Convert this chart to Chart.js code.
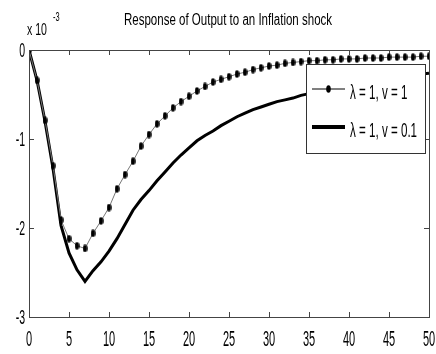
<!DOCTYPE html>
<html>
<head>
<meta charset="utf-8">
<script src="https://cdn.jsdelivr.net/npm/chart.js@4.4.1/dist/chart.umd.min.js"></script>
<style>
    body { margin: 0; background: #fff; }
    #wrap { width: 436px; height: 354px; }
</style>
</head>
<body>
<div id="wrap"><canvas id="irfChart"></canvas></div>
<script>
// Impulse response data (values in units of 10^-3)
const periods = [0, 1, 2, 3, 4, 5, 6, 7, 8, 9, 10, 11, 12, 13, 14, 15, 16, 17, 18, 19, 20,
    21, 22, 23, 24, 25, 26, 27, 28, 29, 30, 31, 32, 33, 34, 35, 36, 37, 38, 39, 40,
    41, 42, 43, 44, 45, 46, 47, 48, 49, 50];

const outputV1 = [0, -0.34, -0.79, -1.30, -1.91, -2.12, -2.20, -2.23, -2.06, -1.92, -1.77,
    -1.56, -1.40, -1.25, -1.08, -0.95, -0.83, -0.74, -0.65, -0.58, -0.52,
    -0.46, -0.41, -0.36, -0.33, -0.30, -0.27, -0.25, -0.22, -0.20, -0.18,
    -0.17, -0.15, -0.14, -0.13, -0.12, -0.12, -0.11, -0.11, -0.10, -0.10,
    -0.10, -0.09, -0.09, -0.09, -0.08, -0.08, -0.08, -0.08, -0.07, -0.07];

const outputV01 = [0, -0.34, -0.80, -1.33, -1.97, -2.28, -2.47, -2.60, -2.48, -2.38, -2.26,
    -2.12, -1.96, -1.80, -1.68, -1.58, -1.47, -1.37, -1.27, -1.18, -1.10,
    -1.02, -0.96, -0.91, -0.85, -0.80, -0.75, -0.71, -0.67, -0.64, -0.61,
    -0.58, -0.56, -0.54, -0.51, -0.49, -0.47, -0.45, -0.43, -0.41, -0.39,
    -0.37, -0.36, -0.34, -0.33, -0.31, -0.30, -0.29, -0.28, -0.27, -0.26];

const xTicks = [0, 5, 10, 15, 20, 25, 30, 35, 40, 45, 50];
const yTicks = [0, -1, -2, -3];
const seriesLabels = ['\u03bb = 1, v = 1', '\u03bb = 1, v = 0.1'];
const chartTitle = 'Response of Output to an Inflation shock';

const fontFam = '"Liberation Sans", Arial, sans-serif';

// text squeezed horizontally, like the scanned MATLAB figure
function drawNarrow(ctx, text, x, y, size, sx, align) {
    ctx.save();
    ctx.font = size + 'px ' + fontFam;
    ctx.textAlign = align || 'left';
    ctx.textBaseline = 'alphabetic';
    ctx.translate(x, y);
    ctx.scale(sx, 1);
    ctx.fillText(text, 0, 0);
    ctx.restore();
}

// tall oval marker used for the v = 1 series
const marker = document.createElement('canvas');
marker.width = 5;
marker.height = 8;
(function () {
    const m = marker.getContext('2d');
    m.fillStyle = '#000';
    m.beginPath();
    m.ellipse(2.5, 4, 2.3, 3.8, 0, 0, Math.PI * 2);
    m.fill();
})();

// Box, inward ticks, labels, title, exponent and legend (MATLAB look)
const matlabFrame = {
    id: 'matlabFrame',
    beforeDatasetsDraw(chart) {
        const { ctx, chartArea: a, scales } = chart;
        ctx.save();
        ctx.strokeStyle = '#444';
        ctx.lineWidth = 1;
        ctx.beginPath();
        xTicks.forEach(t => {
            const px = Math.round(scales.x.getPixelForValue(t)) + 0.5;
            ctx.moveTo(px, a.bottom); ctx.lineTo(px, a.bottom - 5);
            ctx.moveTo(px, a.top); ctx.lineTo(px, a.top + 5);
        });
        yTicks.forEach(t => {
            const py = Math.round(scales.y.getPixelForValue(t)) + 0.5;
            ctx.moveTo(a.left, py); ctx.lineTo(a.left + 5, py);
            ctx.moveTo(a.right, py); ctx.lineTo(a.right - 5, py);
        });
        ctx.stroke();
        ctx.restore();
    },
    afterDatasetsDraw(chart) {
        const { ctx, chartArea: a, scales } = chart;
        ctx.save();

        // legend box
        const lx = 306, ly = 64, lw = 119, lh = 89;
        ctx.fillStyle = '#fff';
        ctx.fillRect(lx, ly, lw, lh);
        ctx.strokeStyle = '#333';
        ctx.lineWidth = 1;
        ctx.strokeRect(lx + 0.5, ly + 0.5, lw, lh);

        const rows = [89, 127];
        chart.data.datasets.forEach((ds, i) => {
            const y = rows[i];
            ctx.strokeStyle = '#000';
            ctx.lineWidth = i === 0 ? 1 : 4;
            ctx.beginPath();
            ctx.moveTo(lx + 6, y); ctx.lineTo(lx + 39, y);
            ctx.stroke();
            if (ds.pointRadius > 0) {
                ctx.drawImage(marker, lx + 20, y - 4);
            }
            ctx.fillStyle = '#000';
            drawNarrow(ctx, ds.label, lx + 44, y + 10, 20, 0.58);
        });

        // box around the axes
        ctx.strokeStyle = '#444';
        ctx.lineWidth = 1;
        ctx.strokeRect(Math.round(a.left) + 0.5, Math.round(a.top) + 0.5,
            Math.round(a.right - a.left), Math.round(a.bottom - a.top));

        ctx.fillStyle = '#000';
        // tick labels
        xTicks.forEach(t => {
            drawNarrow(ctx, String(t), scales.x.getPixelForValue(t), 346, 22, 0.5, 'center');
        });
        yTicks.forEach(t => {
            drawNarrow(ctx, String(t), 25, scales.y.getPixelForValue(t) + 7, 21, 0.5, 'right');
        });

        // title
        drawNarrow(ctx, chartTitle, 228, 25, 16, 0.72, 'center');

        // exponent
        drawNarrow(ctx, 'x 10', 27, 35, 16, 0.66);
        drawNarrow(ctx, '-3', 53, 21, 12, 0.62);
        ctx.restore();
    }
};

const ctx = document.getElementById('irfChart').getContext('2d');
const irfChart = new Chart(ctx, {
    type: 'line',
    data: {
        datasets: [{
            label: seriesLabels[0],
            data: periods.map((p, i) => ({ x: p, y: outputV1[i] })),
            borderColor: '#777',
            borderWidth: 1,
            pointRadius: 3,
            pointStyle: marker,
            tension: 0
        }, {
            label: seriesLabels[1],
            data: periods.map((p, i) => ({ x: p, y: outputV01[i] })),
            borderColor: '#000',
            borderWidth: 3,
            pointRadius: 0,
            tension: 0
        }]
    },
    options: {
        responsive: true,
        maintainAspectRatio: false,
        animation: false,
        layout: { padding: { top: 50, right: 7, left: 0, bottom: 0 } },
        plugins: {
            legend: { display: false },
            title: { display: false },
            tooltip: { enabled: false }
        },
        scales: {
            x: {
                type: 'linear',
                min: 0,
                max: 50,
                afterFit: scale => { scale.height = 37; },
                grid: { display: false, drawTicks: false },
                border: { display: false },
                ticks: { display: false }
            },
            y: {
                min: -3,
                max: 0,
                afterFit: scale => { scale.width = 29; },
                grid: { display: false, drawTicks: false },
                border: { display: false },
                ticks: { display: false }
            }
        }
    },
    plugins: [matlabFrame]
});
</script>
</body>
</html>
